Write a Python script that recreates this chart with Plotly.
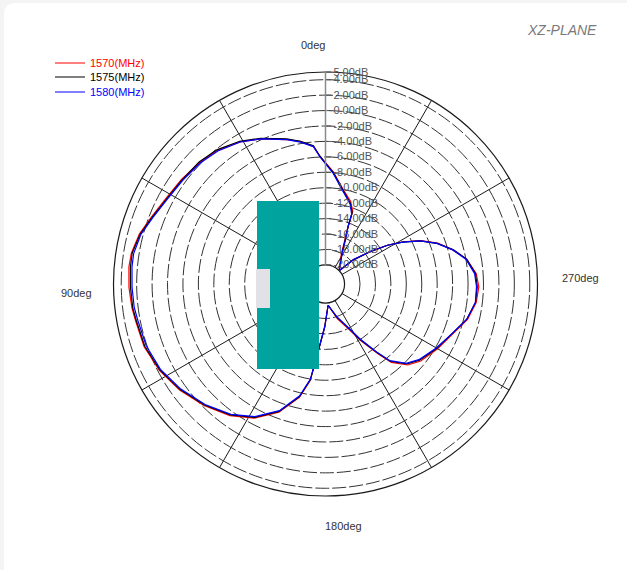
import plotly.graph_objects as go

# Azimuth (deg, counter-clockwise from the top) and gain (dB) along each pattern
angles = [316, 332, 336, 338.5, 339.5, 343, 349.5, 356, 2.5, 5, 10, 15, 24, 31, 39, 46,
          54, 62, 69, 75, 81, 85, 91, 97, 101, 109, 117.5, 126, 135, 144, 152, 160,
          167, 171, 174, 179, 187, 199, 207, 212, 217, 220, 225.5, 231, 240, 249, 256,
          263, 269, 274, 280, 285, 290, 294.5, 298.5, 302, 306, 311, 314]

gain_1570 = [-19.9, -18.1, -16.4, -14.4, -12.4, -11.3, -10.0, -7.9, -5.9, -4.6, -3.7, -3.1,
             -1.9, -1.0, -0.2, 0.2, 0.6, 1.0, 1.7, 2.5, 3.0, 3.1, 3.0, 2.8, 2.6, 2.4, 1.8,
             0.9, -0.2, -1.4, -2.8, -4.8, -7.4, -9.8, -13.8, -17.0, -19.7, -17.7, -16.0,
             -13.8, -11.1, -9.2, -7.5, -6.6, -5.7, -4.7, -3.5, -2.8, -2.6, -2.9, -3.9,
             -5.4, -7.0, -8.9, -11.0, -13.0, -15.4, -17.8, -19.9]

gain_1575 = [-19.9, -17.9, -16.2, -14.5, -12.6, -11.5, -10.1, -8.0, -5.9, -4.5, -3.7, -3.0,
             -1.8, -0.9, -0.1, 0.3, 0.5, 0.9, 1.6, 2.4, 2.9, 2.9, 2.8, 2.7, 2.5, 2.3, 1.7,
             0.8, -0.3, -1.5, -2.9, -4.9, -7.5, -9.9, -13.9, -16.9, -19.7, -17.9, -16.2,
             -14.0, -11.3, -9.4, -7.7, -6.8, -5.8, -4.8, -3.6, -2.9, -2.8, -3.0, -3.9,
             -5.3, -7.1, -9.0, -11.1, -13.0, -15.4, -17.7, -19.9]

gain_1580 = [-19.9, -17.8, -16.0, -14.6, -12.8, -11.6, -10.2, -8.1, -6.0, -4.6, -3.8, -3.1,
             -1.9, -1.0, -0.3, 0.1, 0.4, 0.8, 1.5, 2.3, 2.7, 2.7, 2.6, 2.5, 2.3, 2.1, 1.6,
             0.7, -0.4, -1.6, -3.0, -5.0, -7.6, -10.0, -14.0, -16.9, -19.7, -18.0, -16.3,
             -14.1, -11.4, -9.5, -7.8, -6.9, -5.9, -4.8, -3.6, -2.9, -2.9, -3.1, -4.0,
             -5.4, -7.1, -9.0, -11.1, -13.0, -15.3, -17.6, -19.9]

series_names = ["1570(MHz)", "1575(MHz)", "1580(MHz)"]
series_colors = ["#ff0000", "#000000", "#0000ff"]

ring_values = [-20, -18, -16, -14, -12, -10, -8, -6, -4, -2, 0, 2, 4, 5]
ring_labels = ["-20.00dB", "-18.00dB", "-16.00dB", "-14.00dB", "-12.00dB", "-10.00dB",
               "-8.00dB", "-6.00dB", "-4.00dB", "-2.00dB", "0.00dB", "2.00dB", "4.00dB",
               "5.00dB"]
main_spokes = [0, 90, 180, 270]
minor_spokes = [30, 60, 120, 150, 210, 240, 300, 330]
direction_labels = ["0deg", "90deg", "180deg", "270deg"]

W, H = 627, 570
cx, cy, R = 325.5, 284.0, 212.0
dom_x = [(cx - R) / W, (cx + R) / W]
dom_y = [(H - cy - R) / H, (H - cy + R) / H]
HOLE = 0.09
FONT = "Liberation Sans, Arial"

fig = go.Figure()
for name, color, gain, lg in zip(series_names, series_colors,
                                 [gain_1570, gain_1575, gain_1580],
                                 ["legend", "legend2", "legend3"]):
    fig.add_trace(go.Scatterpolar(
        r=gain, theta=angles, mode="lines", name=name, subplot="polar2",
        line=dict(color=color, width=1.2), legend=lg, showlegend=True,
        hoverinfo="skip"))

# bottom layer: grey principal axes
fig.update_layout(polar=dict(
    domain=dict(x=dom_x, y=dom_y), hole=HOLE, bgcolor="white",
    angularaxis=dict(rotation=90, direction="counterclockwise", tickmode="array",
                     tickvals=main_spokes, showticklabels=False, ticks="",
                     showgrid=True, gridcolor="#8a8a8a", gridwidth=1.5, showline=False),
    radialaxis=dict(range=[-20, 5], showgrid=False, showline=False,
                    showticklabels=False, ticks=""),
))

# top layer: rings, diagonal spokes, radial scale and the patterns
fig.update_layout(polar2=dict(
    domain=dict(x=dom_x, y=dom_y), hole=HOLE, bgcolor="rgba(0,0,0,0)",
    angularaxis=dict(rotation=90, direction="counterclockwise", tickmode="array",
                     tickvals=minor_spokes, showticklabels=False, ticks="",
                     showgrid=True, gridcolor="#1a1a1a", gridwidth=1,
                     showline=True, linecolor="#1a1a1a", linewidth=1.2),
    radialaxis=dict(range=[-20, 5], tickmode="array", tickvals=ring_values,
                    ticktext=ring_labels, angle=90, tickangle=90, side="clockwise",
                    showline=True, linecolor="#8a8a8a", linewidth=1.5,
                    ticks="outside", ticklen=5, tickcolor="#555",
                    showgrid=True, gridcolor="#333333", gridwidth=1, griddash="14px,3px",
                    tickfont=dict(family=FONT, size=11, color="#555")),
))

# paper card with rounded corner
r_c = 12
card = (f"M {4/W},0 L {4/W},{1-(3+r_c)/H} Q {4/W},{1-3/H} {(4+r_c)/W},{1-3/H} "
        f"L 1,{1-3/H} L 1,0 Z")
shapes = [
    dict(type="path", path=card, xref="paper", yref="paper", fillcolor="white",
         line=dict(width=0), layer="below"),
    dict(type="rect", xref="paper", yref="paper", x0=257/W, x1=319/W,
         y0=1-369/H, y1=1-201/H, fillcolor="#00a39d", line=dict(width=0), layer="above"),
    dict(type="rect", xref="paper", yref="paper", x0=256/W, x1=270/W,
         y0=1-308/H, y1=1-269/H, fillcolor="#e2e2e6", line=dict(width=0), layer="above"),
]

label_pos = [(313, 45), (76, 293), (343, 526), (580, 278)]
annotations = [dict(text=t, x=px/W, y=1-py/H, xref="paper", yref="paper",
                    showarrow=False, xanchor="center", yanchor="middle",
                    font=dict(family=FONT, size=11, color="#333333"))
               for t, (px, py) in zip(direction_labels, label_pos)]
annotations.append(dict(text="<i>XZ-PLANE</i>", x=562/W, y=1-30/H, xref="paper",
                        yref="paper", showarrow=False, xanchor="center", yanchor="middle",
                        font=dict(family=FONT, size=14, color="#7a7a7a")))

legend_y = [63, 77, 92]
legend_common = dict(x=50/W, xanchor="left", yanchor="middle", bgcolor="rgba(0,0,0,0)",
                     borderwidth=0, itemwidth=30)
fig.update_layout(
    width=W, height=H, margin=dict(l=0, r=0, t=0, b=0), paper_bgcolor="#f4f4f4",
    shapes=shapes, annotations=annotations,
    legend=dict(y=1-legend_y[0]/H, font=dict(family=FONT, size=11,
                                               color=series_colors[0]), **legend_common),
    legend2=dict(y=1-legend_y[1]/H, font=dict(family=FONT, size=11,
                                                color=series_colors[1]), **legend_common),
    legend3=dict(y=1-legend_y[2]/H, font=dict(family=FONT, size=11,
                                                color=series_colors[2]), **legend_common),
)

fig.write_html("out.html")
